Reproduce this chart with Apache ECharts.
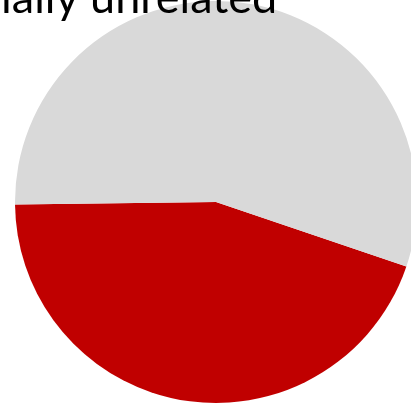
<!DOCTYPE html>
<html>
<head>
<meta charset="utf-8">
<script src="https://cdn.jsdelivr.net/npm/echarts@6/dist/echarts.min.js"></script>
<style>
html,body{margin:0;padding:0;background:#fff;}
#chart{width:411px;height:405px;}
</style>
</head>
<body>
<div id="chart"></div>
<script>
const categories = ['Related', 'Potentially unrelated'];
const values = [44.6, 55.4];
const colors = ['#C00000', '#D9D9D9'];
const titleText = 'ially unrelated';

const chart = echarts.init(document.getElementById('chart'), null, {renderer: 'canvas'});
chart.setOption({
  animation: false,
  backgroundColor: '#ffffff',
  graphic: [{
    type: 'text',
    left: 1,
    top: -24,
    z: 10,
    style: {
      text: titleText,
      font: '45px Lato',
      fill: '#000000'
    }
  }],
  series: [{
    type: 'pie',
    center: [216, 202],
    radius: 201,
    startAngle: -18.7,
    clockwise: true,
    label: {show: false},
    labelLine: {show: false},
    itemStyle: {borderWidth: 0},
    emphasis: {disabled: true},
    data: categories.map((c, i) => ({name: c, value: values[i], itemStyle: {color: colors[i]}}))
  }]
});
</script>
</body>
</html>
